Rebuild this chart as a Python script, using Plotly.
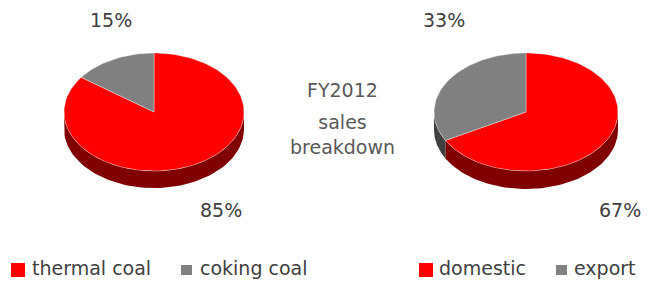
import numpy as np
import plotly.graph_objects as go

# ---- data ----
left_labels = ["thermal coal", "coking coal"]
left_values = [85, 15]
right_labels = ["domestic", "export"]
right_values = [67, 33]
center_title = "FY2012"
center_sub = "sales<br>breakdown"

top_colors = ["#FF0000", "#808080"]
side_colors = ["#800000", "#404040"]
TEXT = "#404040"
FONT = "DejaVu Sans"

fig = go.Figure()


def pie3d(values, labels, cx, cy, rx, ry, depth):
    total = float(sum(values))
    bounds = []
    start = 0.0
    for v in values:
        a0 = start / total * 360.0
        a1 = (start + v) / total * 360.0
        bounds.append((a0, a1))
        start += v
    # side walls (front half only: 90..270 deg, clockwise from top)
    for (a0, a1), lab, sc in zip(bounds, labels, side_colors):
        lo, hi = max(a0, 90.0), min(a1, 270.0)
        if lo < hi:
            t = np.radians(np.linspace(lo, hi, 80))
            xs = cx + rx * np.sin(t)
            ys = cy - ry * np.cos(t)
            px = np.concatenate([xs, xs[::-1]])
            py = np.concatenate([ys, (ys + depth)[::-1]])
            fig.add_trace(go.Scatter(x=px, y=py, fill="toself", mode="lines",
                                     line=dict(width=0, color=sc), fillcolor=sc,
                                     showlegend=False, hoverinfo="skip"))
    # top surfaces
    for (a0, a1), lab, v, c in zip(bounds, labels, values, top_colors):
        n = max(int((a1 - a0) / 2) + 2, 10)
        t = np.radians(np.linspace(a0, a1, n))
        xs = np.concatenate([[cx], cx + rx * np.sin(t), [cx]])
        ys = np.concatenate([[cy], cy - ry * np.cos(t), [cy]])
        fig.add_trace(go.Scatter(x=xs, y=ys, fill="toself", mode="lines",
                                 line=dict(width=0.6, color="rgba(255,255,255,0.6)"),
                                 fillcolor=c, name=lab, showlegend=False,
                                 hoveron="fills",
                                 hovertemplate=f"{lab}: {v}%<extra></extra>"))
    return total


lt = pie3d(left_values, left_labels, 154, 112, 90, 59, 17)
rt = pie3d(right_values, right_labels, 526, 112, 92, 59, 18)

ann = []
# percentage labels
ann.append(dict(x=111, y=20, text=f"{round(left_values[1] / lt * 100)}%"))
ann.append(dict(x=221, y=210, text=f"{round(left_values[0] / lt * 100)}%"))
ann.append(dict(x=444, y=20, text=f"{round(right_values[1] / rt * 100)}%"))
ann.append(dict(x=620, y=210, text=f"{round(right_values[0] / rt * 100)}%"))
for a in ann:
    a.update(xref="x", yref="y", showarrow=False, xanchor="center", yanchor="middle",
             font=dict(family=FONT, size=19, color=TEXT))
ann.append(dict(x=342, y=90, xref="x", yref="y", text=center_title, showarrow=False,
                font=dict(family=FONT, size=19, color="#595959")))
ann.append(dict(x=342, y=134, xref="x", yref="y", text=center_sub, showarrow=False,
                font=dict(family=FONT, size=19, color="#595959")))

# legends
shapes = []
leg = [
    (left_labels[0], top_colors[0], 11, 30, 14, 14),
    (left_labels[1], top_colors[1], 181, 198, 11, 10),
    (right_labels[0], top_colors[0], 419, 437, 14, 14),
    (right_labels[1], top_colors[1], 556, 572, 11, 10),
]
for lab, col, sx, tx, w, h in leg:
    shapes.append(dict(type="rect", xref="x", yref="y", x0=sx, x1=sx + w,
                       y0=270 - h / 2, y1=270 + h / 2, fillcolor=col, line=dict(width=0)))
    ann.append(dict(x=tx, y=268, xref="x", yref="y", text=lab, showarrow=False,
                    xanchor="left", yanchor="middle",
                    font=dict(family=FONT, size=19, color=TEXT)))

fig.update_layout(
    width=659, height=282,
    margin=dict(l=0, r=0, t=0, b=0),
    paper_bgcolor="white", plot_bgcolor="white",
    xaxis=dict(range=[0, 659], visible=False, fixedrange=True),
    yaxis=dict(range=[282, 0], visible=False, fixedrange=True),
    annotations=ann, shapes=shapes, showlegend=False,
)

fig.write_html("out.html", config={"displayModeBar": False},
               post_script="document.body.style.margin='0';document.body.style.overflow='hidden';")
